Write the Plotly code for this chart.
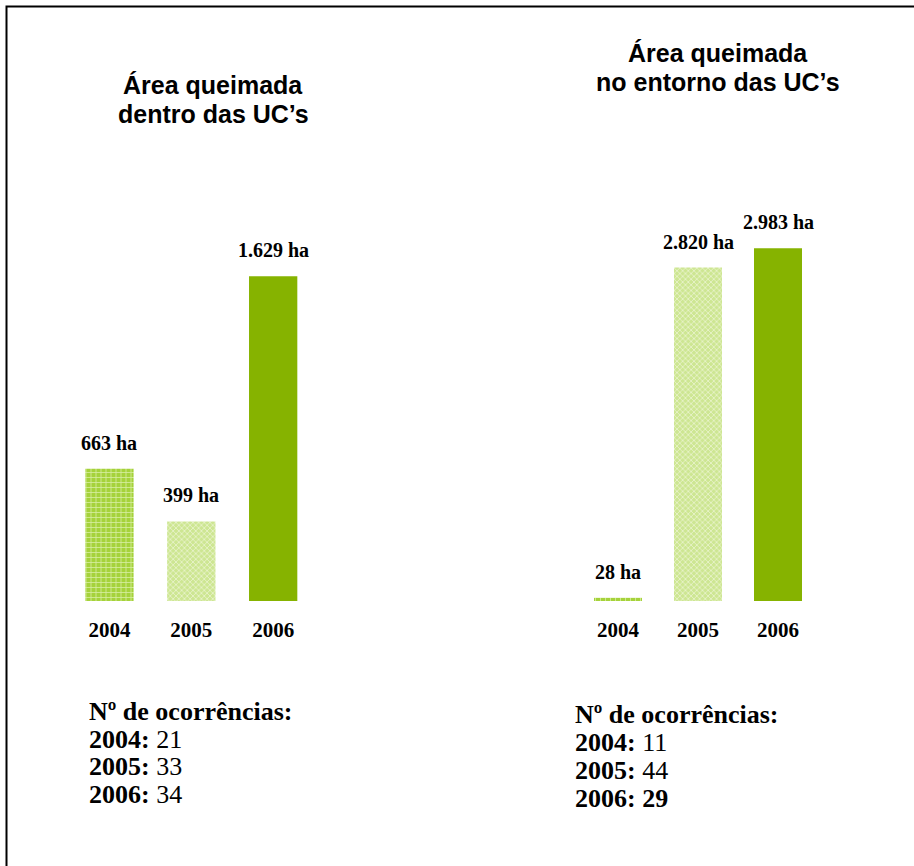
import plotly.graph_objects as go

# ---- data ----
years = ["2004", "2005", "2006"]
area_inside = [663, 399, 1629]        # ha, within the UCs
area_around = [28, 2820, 2983]       # ha, around the UCs
occ_inside = [21, 33, 34]
occ_around = [11, 44, 29]
title_inside = ["Área queimada", "dentro das UC’s"]
title_around = ["Área queimada", "no entorno das UC’s"]
occ_heading = "Nº de ocorrências:"

# ---- styles ----
W, H = 914, 866
bar_styles = {
    "2004": dict(color="#A5D23A", pattern=dict(shape="+", bgcolor="#A5D23A", fgcolor="#D6EC9E",
                                                fgopacity=1, size=5, solidity=0.3, fillmode="replace")),
    "2005": dict(color="#CDE692", pattern=dict(shape="x", bgcolor="#CDE692", fgcolor="#F1F8DE",
                                                fgopacity=1, size=4, solidity=0.3, fillmode="replace")),
    "2006": dict(color="#86B300"),
}
serif = "Liberation Serif, Times New Roman, serif"
sans = "Liberation Sans, Arial, sans-serif"


def px_x(p):
    return p / W


def px_y(p):
    return 1 - p / H


def fmt(v):
    return f"{v:,}".replace(",", ".") + " ha"


fig = go.Figure()

for values, xa, ya, width in [(area_inside, "x", "y", 0.59), (area_around, "x2", "y2", 0.60)]:
    for i, (yr, v) in enumerate(zip(years, values)):
        fig.add_trace(go.Bar(
            x=[yr], y=[v], xaxis=xa, yaxis=ya, width=width,
            marker=dict(line=dict(width=0), **bar_styles[yr]),
            hoverinfo="skip", showlegend=False,
        ))
        fig.add_annotation(x=i, y=v, xref=xa, yref=ya, text=f"<b>{fmt(v)}</b>",
                           showarrow=False, yanchor="middle", yshift=26,
                           font=dict(family=serif, size=20, color="black"))

axis_common = dict(type="category", categoryorder="array", categoryarray=years,
                   showgrid=False, zeroline=False, showline=False, ticks="",
                   tickfont=dict(family=serif, size=21, color="black", weight="bold"),
                   ticklabelstandoff=14)
ycommon = dict(visible=False, showgrid=False, zeroline=False)

y_dom = [px_y(601), px_y(200)]
fig.update_layout(
    width=W, height=H, margin=dict(l=0, r=0, t=0, b=0),
    paper_bgcolor="white", plot_bgcolor="white", barmode="overlay",
    xaxis=dict(domain=[px_x(68.5), px_x(314.1)], anchor="y", range=[-0.5, 2.5], **axis_common),
    yaxis=dict(domain=y_dom, range=[0, 2011], anchor="x", **ycommon),
    xaxis2=dict(domain=[px_x(578), px_x(818)], anchor="y2", range=[-0.5, 2.5], **axis_common),
    yaxis2=dict(domain=y_dom, range=[0, 3391], anchor="x2", **ycommon),
)

# titles
for lines, cx, ys in [(title_inside, 213, [85, 114]), (title_around, 718, [53, 82])]:
    for line, yy in zip(lines, ys):
        fig.add_annotation(x=px_x(cx), y=px_y(yy), xref="paper", yref="paper",
                           text=f"<b>{line}</b>", showarrow=False,
                           xanchor="center", yanchor="middle",
                           font=dict(family=sans, size=25, color="black"))

# occurrence blocks
for occ, lx, ys, bold_last in [(occ_inside, 87, [711, 739, 766, 794], False),
                               (occ_around, 573, [714, 742, 770, 798], True)]:
    texts = [f"<b>{occ_heading}</b>"]
    for i, (yr, n) in enumerate(zip(years, occ)):
        if bold_last and i == len(years) - 1:
            texts.append(f"<b>{yr}: {n}</b>")
        else:
            texts.append(f"<b>{yr}:</b> {n}")
    for t, yy in zip(texts, ys):
        fig.add_annotation(x=px_x(lx), y=px_y(yy), xref="paper", yref="paper",
                           text=t, showarrow=False, xanchor="left", yanchor="middle",
                           font=dict(family=serif, size=26, color="black"))

# frame
fig.add_shape(type="rect", xref="paper", yref="paper",
              x0=px_x(6.5), y0=px_y(H + 20), x1=px_x(W + 20), y1=px_y(6.5),
              line=dict(color="black", width=2), fillcolor="rgba(0,0,0,0)", layer="above")

fig.write_html("out.html", config={"displayModeBar": False},
               post_script="document.body.style.margin='0';")
